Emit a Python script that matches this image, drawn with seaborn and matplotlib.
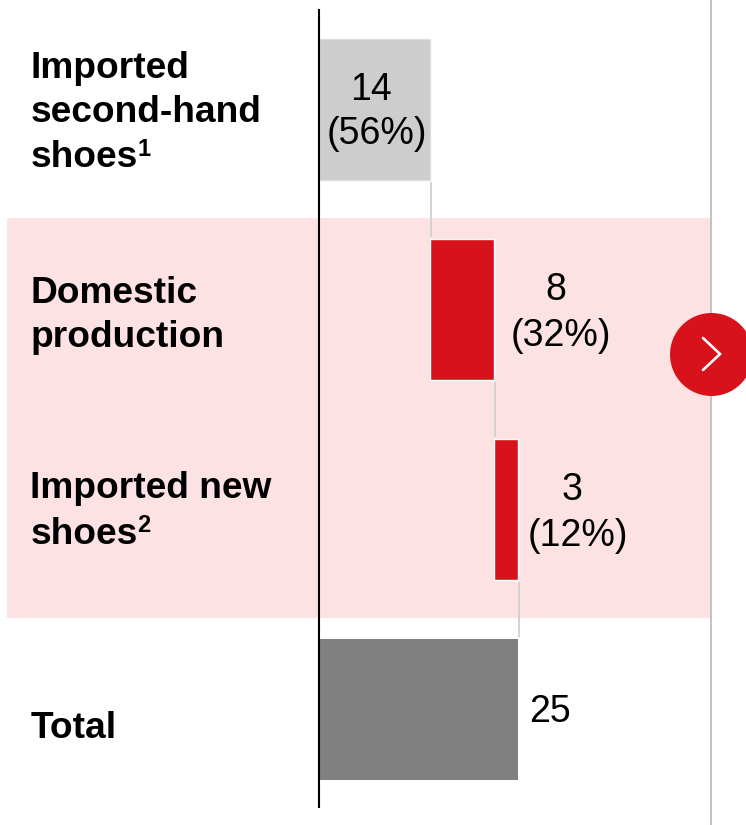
import matplotlib
matplotlib.use("Agg")
import matplotlib.pyplot as plt
import numpy as np
import seaborn as sns

# Waterfall data: sources of shoes, in the order they stack up
categories = ["Imported\nsecond-hand\nshoes", "Domestic\nproduction", "Imported new\nshoes", "Total"]
footnotes = ["1", None, "2", None]
values = [14, 8, 3, 25]
shares = ["(56%)", "(32%)", "(12%)", None]

bar_colors = ["#cdcdcd", "#d7121a", "#d7121a", "#808080"]
edge_colors = ["#dedede", "#ffffff", "#ffffff", "none"]
BAND = "#fde2e3"
RED = "#d7121a"
RULE = "#b9b9b9"
CONNECTOR = "#d2d2d2"

sns.set_theme(style="white")
plt.rcParams["font.family"] = ["Liberation Sans", "DejaVu Sans"]

W, H = 746, 825
fig = plt.figure(figsize=(W / 100, H / 100), dpi=100)

# Backdrop layer in pixel units, holding the band, rule and arrow badge
back = fig.add_axes([0, 0, 1, 1], zorder=0)
back.set_xlim(0, W)
back.set_ylim(H, 0)
back.axis("off")
back.fill_between([7, 711], 218, 618, color=BAND, lw=0)
back.plot([711, 711], [0, H], color=RULE, lw=1.2)
back.scatter([711], [353.5], s=3570, color=RED, lw=0, zorder=3, clip_on=True)
back.plot([703, 720, 703], [338, 354, 370], color="white", lw=1.9, zorder=4,
          solid_joinstyle="miter")

# Bar layer: 0 sits at x=319 px, 7.96 px per unit; rows are 200 px apart
ax = fig.add_axes([0, 0, 1, 1], zorder=1)
sns.barplot(x=values, y=categories, hue=categories, palette=bar_colors, dodge=False,
            width=0.705, orient="h", legend=False, saturation=1, ax=ax)
ax.set_xlim(-319 / 7.96, (W - 319) / 7.96)
ax.set_ylim(3.5775, -0.5475)
ax.axis("off")
ax.patch.set_visible(False)

# The three sources float on their running total; the total bar starts at zero
steps = values[:3]
ends = np.cumsum(steps)
starts = list(ends - np.array(steps)) + [0]
for patch, start, edge, in zip(ax.patches, starts, edge_colors):
    patch.set_x(start)
    patch.set_edgecolor(edge)
    patch.set_linewidth(1.0)

half = 0.705 / 2
for i, end in enumerate(ends):
    ax.plot([end + 0.12, end + 0.12], [i + half + 0.01, i + 1 - half - 0.01],
            color=CONNECTOR, lw=1.4, solid_capstyle="butt", zorder=1)
ax.plot([0, 0], [-0.5025, 3.4925], color="black", lw=1.5, solid_capstyle="butt", zorder=5)

# Row labels set line by line, with baselines on the backdrop's pixel scale
label_baselines = [[78, 122.5, 167], [303, 347], [498, 544], [738]]
for text, baselines in zip(categories, label_baselines):
    for line, y in zip(text.split("\n"), baselines):
        ax.text(30.5, y, line, transform=back.transData, fontsize=26.7, fontweight="bold",
                color="black", ha="left", va="baseline")

# Footnote markers beside the last line of their row label
note_pos = [(137.5, 156), (137.5, 532)]
for mark, (x, y) in zip([f for f in footnotes if f], note_pos):
    ax.text(x, y, mark, transform=back.transData, fontsize=17, fontweight="bold",
            color="black", ha="left", va="baseline")

# Value and share labels
value_pos = [(371, 90.5), (556, 290.5), (572, 490), (550, 712.5)]
share_pos = [(377, 134.5), (561, 335.5), (578, 535.5)]
for v, (x, y) in zip(values, value_pos):
    ax.text(x, y, str(v), transform=back.transData, fontsize=27, color="black",
            ha="center", va="center")
for s, (x, y) in zip(shares, share_pos):
    ax.text(x, y, s, transform=back.transData, fontsize=27, color="black",
            ha="center", va="center")

fig.savefig("out.png", dpi=100, facecolor="white")
